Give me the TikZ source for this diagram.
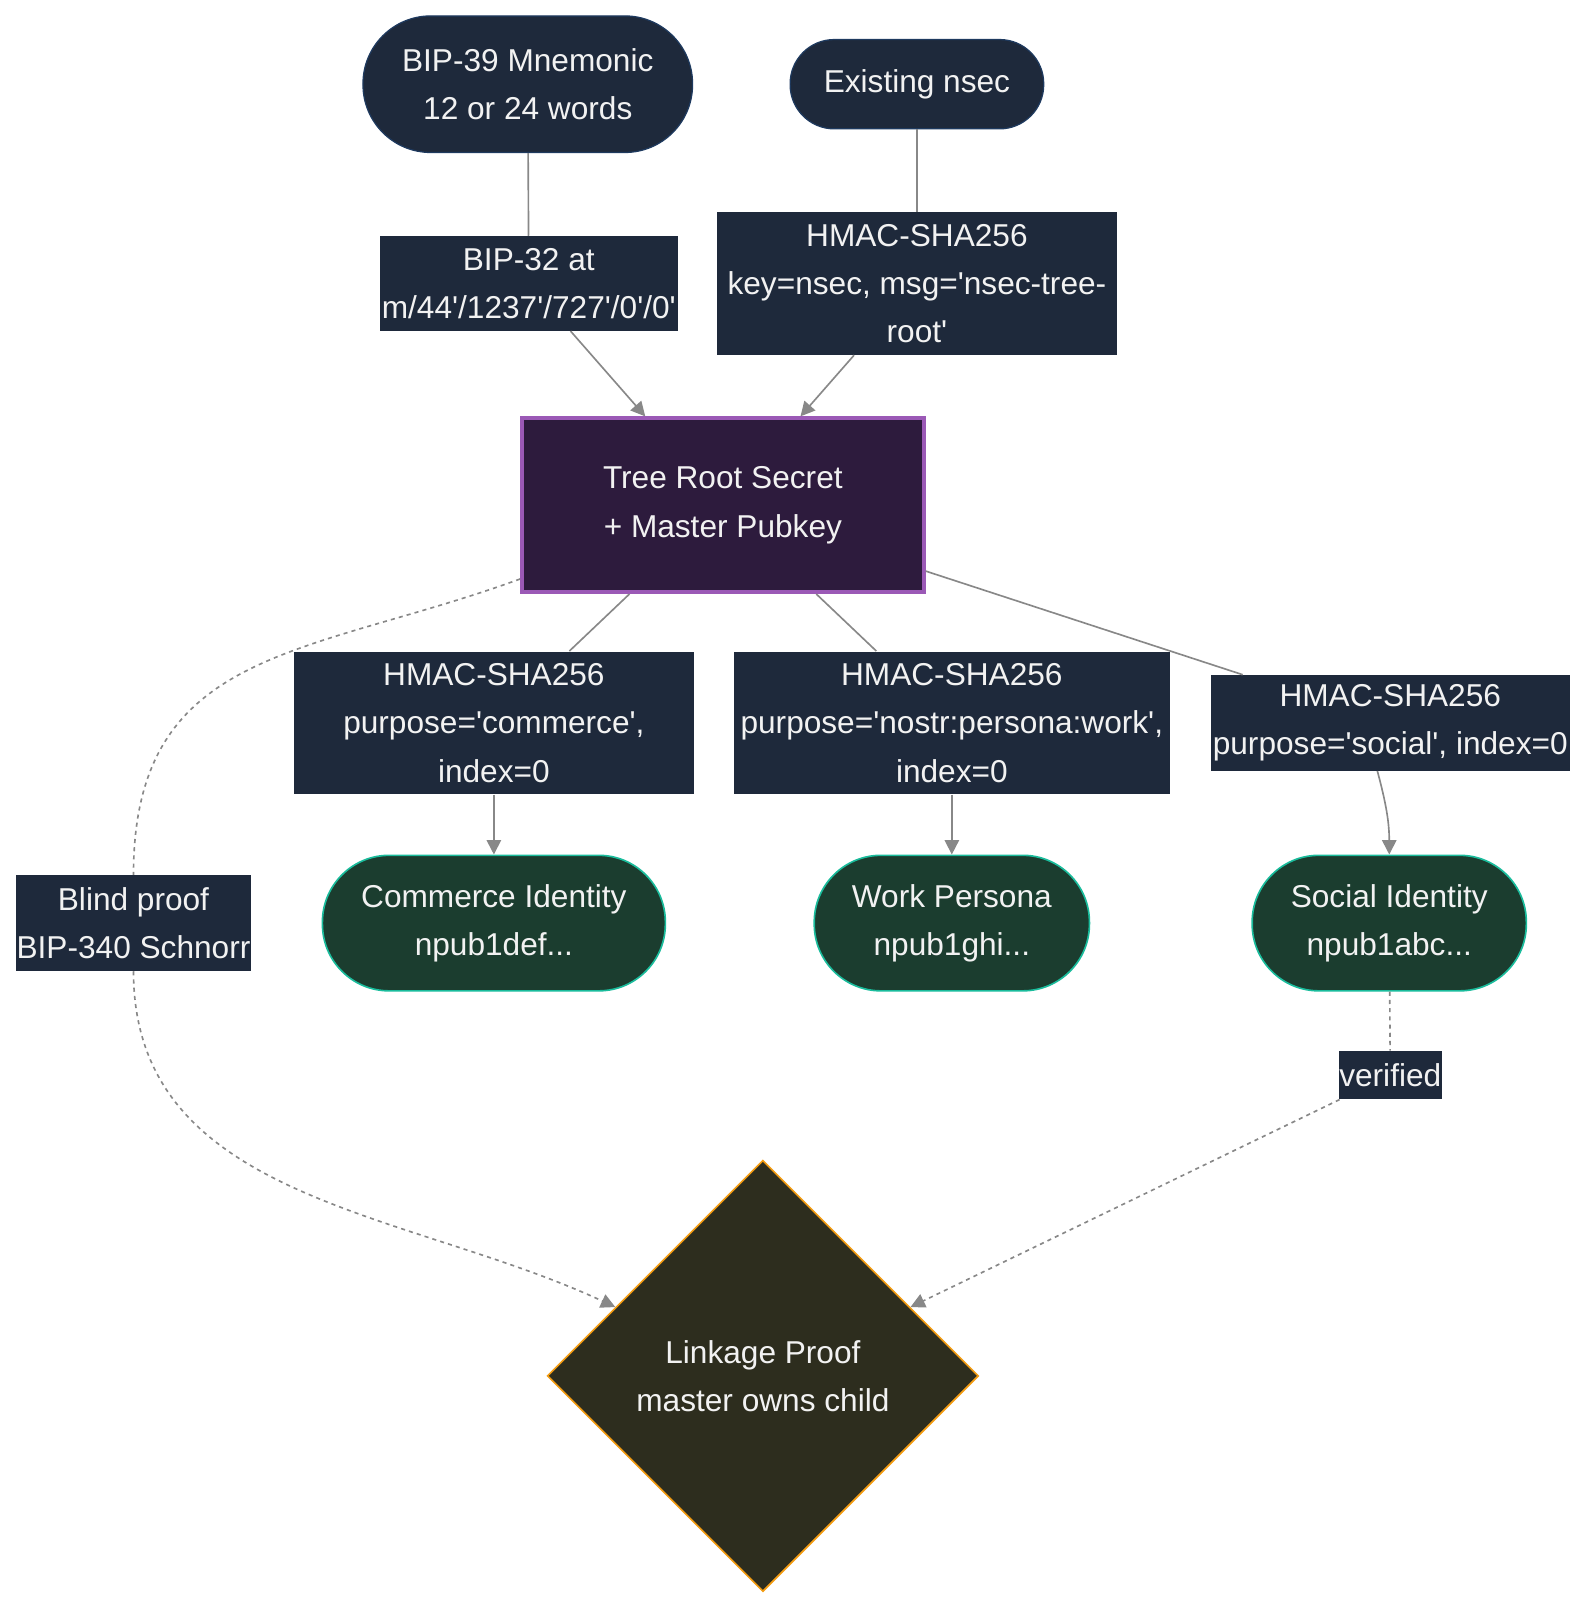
\documentclass[tikz,border=0pt]{standalone}
\usepackage{fontspec}
\setmainfont{Liberation Sans}[Ligatures=TeXOff]
\usetikzlibrary{shapes.geometric, arrows.meta}
\definecolor{cNavy}{HTML}{1E293B}
\definecolor{cNavyLine}{HTML}{1E3A5F}
\definecolor{cRootFill}{HTML}{2D1B3D}
\definecolor{cRootLine}{HTML}{9B59B6}
\definecolor{cIdFill}{HTML}{1B3D2F}
\definecolor{cIdLine}{HTML}{1ABC9C}
\definecolor{cProofFill}{HTML}{2D2D1E}
\definecolor{cProofLine}{HTML}{F39C12}
\definecolor{cEdge}{HTML}{888888}
\definecolor{cText}{HTML}{F2F2F2}
\tikzset{
  basenode/.style={
    font=\fontsize{15.4}{23.5}\selectfont, text=cText,
    align=center, inner sep=0pt,
  },
  sourcenode/.style={
    basenode, draw=cNavyLine, fill=cNavy, line width=0.6pt,
    rounded corners=#1,
  },
  edgelabel/.style={basenode, fill=cNavy},
  rootnode/.style={
    basenode, draw=cRootLine, fill=cRootFill, line width=2pt,
    minimum width=195.5pt, minimum height=84.5pt,
  },
  idnode/.style={
    basenode, draw=cIdLine, fill=cIdFill, line width=0.8pt,
    minimum height=66pt, rounded corners=32.5pt,
  },
  proofnode/.style={
    basenode, diamond, aspect=1, draw=cProofLine, fill=cProofFill,
    line width=0.8pt, minimum width=210pt, minimum height=210pt,
  },
  plainedge/.style={line width=0.8pt, color=cEdge},
  dashedge/.style={line width=0.8pt, color=cEdge, dash pattern=on 2pt off 2pt},
  arw/.style={-{Triangle[length=7pt, width=7pt]}, line width=0.8pt, color=cEdge},
}

\begin{document}
\begin{tikzpicture}[x=0.5pt, y=0.5pt]

  \useasboundingbox (0,0) rectangle (1545,-1568);

  % Sources
  \node[sourcenode=33pt, minimum width=160.5pt, minimum height=66.5pt]
    (mnem) at (514,-82) {BIP-39 Mnemonic\\12 or 24 words};
  \node[sourcenode=21.5pt, minimum width=123.5pt, minimum height=43.5pt]
    (nsec) at (893,-82) {Existing nsec};

  \node[edgelabel, minimum width=145pt, minimum height=46pt]
    (bip32) at (515,-276) {BIP-32 at\\m/44'/1237'/727'/0'/0'};
  \node[edgelabel, minimum width=194.5pt, minimum height=69.5pt]
    (hroot) at (893,-276) {HMAC-SHA256\\key=nsec, msg='nsec-tree-\\root'};

  % Root
  \node[rootnode] (root) at (704,-492) {Tree Root Secret\\+ Master Pubkey};

  % Child derivation
  \node[edgelabel, minimum width=195pt, minimum height=69.5pt]
    (hcom) at (481,-704) {HMAC-SHA256\\purpose='commerce',\\index=0};
  \node[edgelabel, minimum width=212pt, minimum height=69.5pt]
    (hwork) at (927,-704) {HMAC-SHA256\\purpose='nostr:persona:work',\\index=0};
  \node[edgelabel, minimum width=175pt, minimum height=46.5pt]
    (hsoc) at (1354,-704) {HMAC-SHA256\\purpose='social', index=0};

  \node[idnode, minimum width=167pt]
    (commerce) at (481,-899) {Commerce Identity\\npub1def...};
  \node[idnode, minimum width=134pt]
    (work) at (927,-899) {Work Persona\\npub1ghi...};
  \node[idnode, minimum width=133.5pt]
    (social) at (1353,-899) {Social Identity\\npub1abc...};

  % Proof
  \node[edgelabel, minimum width=114.5pt, minimum height=46.5pt]
    (blind) at (130,-899) {Blind proof\\BIP-340 Schnorr};
  \node[edgelabel, minimum width=50pt, minimum height=23.5pt]
    (verified) at (1354,-1047) {verified};
  \node[proofnode] (proof) at (743,-1340) {Linkage Proof\\master owns child};

  \draw[plainedge] (mnem) -- (bip32);
  \draw[arw] (bip32) -- (root);
  \draw[plainedge] (nsec) -- (hroot);
  \draw[arw] (hroot) -- (root);

  \draw[plainedge] (root) -- (hcom);
  \draw[arw] (hcom) -- (commerce);
  \draw[plainedge] (root) -- (hwork);
  \draw[arw] (hwork) -- (work);
  \draw[plainedge] (root) -- (hsoc);
  \draw[arw] (hsoc.255) to[out=-75, in=90] (social.north);

  \draw[dashedge] (root.200) to[out=200, in=90, looseness=1.2] (blind.north);
  \draw[dashedge, arw] (blind.south) to[out=-90, in=155] (proof.155);
  \draw[dashedge] (social) -- (verified);
  \draw[dashedge, arw] (verified) -- (proof.25);

\end{tikzpicture}
\end{document}
